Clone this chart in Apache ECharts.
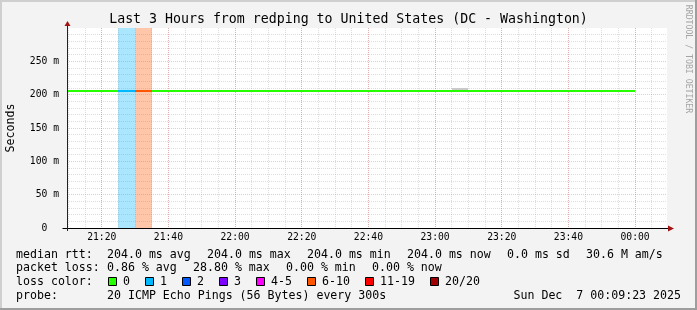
<!DOCTYPE html>
<html><head><meta charset="utf-8">
<script src="https://cdn.jsdelivr.net/npm/echarts@6/dist/echarts.min.js"></script>
<style>html,body{margin:0;padding:0;background:#f3f3f3;}#c{width:697px;height:310px;}</style>
</head><body><div id="c"></div>
<script>
// ---------------- data ----------------
const titleText = 'Last 3 Hours from redping to United States (DC - Washington)';
const yAxisName = 'Seconds';
const watermark = 'RRDTOOL / TOBI OETIKER';
const viewStart = '21:09:35';
const viewEnd = '00:09:35';
const stepMinutes = 5;
const pingsPerProbe = 20;

// end time of each 5-minute sample
const sampleTimes = [
  '21:10','21:15','21:20','21:25','21:30','21:35','21:40','21:45','21:50','21:55',
  '22:00','22:05','22:10','22:15','22:20','22:25','22:30','22:35','22:40','22:45','22:50','22:55',
  '23:00','23:05','23:10','23:15','23:20','23:25','23:30','23:35','23:40','23:45','23:50','23:55',
  '00:00'
];
// median rtt in ms
const medianRtt = [
  204.0,204.0,204.0,204.0,204.0,204.0,204.0,204.0,204.0,204.0,
  204.0,204.0,204.0,204.0,204.0,204.0,204.0,204.0,204.0,204.0,204.0,204.0,
  204.0,204.0,204.0,204.0,204.0,204.0,204.0,204.0,204.0,204.0,204.0,204.0,
  204.0
];
// packet loss in %
const lossPercent = [
  0,0,0,0,5.0,28.8,0,0,0,0,
  0,0,0,0,0,0,0,0,0,0,0,0,
  0,0,0,0,0,0,0,0,0,0,0,0,
  0
];
// smoke (ping spread) in ms
const pingMin = [
  204,204,204,204,204,204,204,204,204,204,
  204,204,204,204,204,204,204,204,204,204,204,204,
  204,204,204,204,204,204,204,204,204,204,204,204,
  204
];
const pingMax = [
  204,204,204,204,204,204,204,204,204,204,
  204,204,204,204,204,204,204,204,204,204,204,204,
  204,204,210,204,204,204,204,204,204,204,204,204,
  204
];

const yTicks = [0, 50, 100, 150, 200, 250];
const yMax = 300;
const xTickLabels = ['21:20','21:40','22:00','22:20','22:40','23:00','23:20','23:40','00:00'];

const lossLabels = ['0','1','2','3','4-5','6-10','11-19','20/20'];
const lossColors = ['#26ff00','#00b8ff','#0059ff','#7e00ff','#ff00ff','#ff5500','#ff0000','#a10000'];
const lossUpper  = [0, 1, 2, 3, 5, 10, 19, 20];

const rttLabel = 'median rtt:';
const rttStats = ['204.0 ms avg','204.0 ms max','204.0 ms min','204.0 ms now','0.0 ms sd','30.6 M am/s'];
const lossLabel = 'packet loss:';
const lossStats = ['0.86 % avg','28.80 % max','0.00 % min','0.00 % now'];
const colorLabel = 'loss color:';
const probeLabel = 'probe:';
const probeText = '20 ICMP Echo Pings (56 Bytes) every 300s';
const dateText = 'Sun Dec  7 00:09:23 2025';

// ---------------- helpers ----------------
const FONT = 'DejaVu Sans Mono';
function ts(s) {
  const p = s.split(':').map(Number);
  const day = p[0] < 12 ? 7 : 6;
  return new Date(2025, 11, day, p[0], p[1], p[2] || 0).getTime();
}
function pad(n) { return (n < 10 ? '0' : '') + n; }
const stepMs = stepMinutes * 60000;
const tStart = ts(viewStart), tEnd = ts(viewEnd);
const majorTs = xTickLabels.map(ts);
const minorTs = [];
for (let t = Math.ceil(tStart / stepMs) * stepMs; t <= tEnd; t += stepMs) minorTs.push(t);

function lossIndex(pct) {
  const lost = pct / 100 * pingsPerProbe;
  for (let i = 0; i < lossUpper.length; i++) if (lost <= lossUpper[i] + 1e-9) return i;
  return lossUpper.length - 1;
}
function withAlpha(hex, a) {
  const r = parseInt(hex.slice(1,3),16), g = parseInt(hex.slice(3,5),16), b = parseInt(hex.slice(5,7),16);
  return 'rgba(' + r + ',' + g + ',' + b + ',' + a + ')';
}

const samples = sampleTimes.map((t, i) => [ts(t) - stepMs, ts(t), medianRtt[i], lossPercent[i], pingMin[i], pingMax[i]]);
const lossSamples = samples.filter(s => s[3] > 0);
const smokeSamples = samples.filter(s => s[5] > s[4]);

const GRID = { left: 67, top: 28, right: 30, bottom: 82 };
const W = 697, H = 310;
const pL = GRID.left, pR = W - GRID.right, pT = GRID.top, pB = H - GRID.bottom;

const majorGrid = 'rgba(235,100,100,0.38)';
const minorGrid = 'rgba(150,150,150,0.32)';

// ---------------- legend graphics ----------------
const LF = 11.6, CW = 7.0, GAP = 16, TX = 16, VX = 107;
const rowMid = [254.5, 268.2, 281.9, 295.6];
function txt(x, y, s, extra) {
  return Object.assign({ type: 'text', x: x, y: y, silent: true,
    style: Object.assign({ text: s, fontFamily: FONT, fontSize: LF, fill: '#000', align: 'left', verticalAlign: 'middle' }, extra || {}) });
}
const graphics = [];
graphics.push({ type: 'rect', shape: { x: 0, y: 0, width: W, height: 2 }, style: { fill: '#cfcfcf' }, silent: true });
graphics.push({ type: 'rect', shape: { x: 0, y: 0, width: 2, height: H }, style: { fill: '#cfcfcf' }, silent: true });
graphics.push({ type: 'rect', shape: { x: 0, y: H - 2, width: W, height: 2 }, style: { fill: '#9e9e9e' }, silent: true });
graphics.push({ type: 'rect', shape: { x: W - 2, y: 0, width: 2, height: H }, style: { fill: '#9e9e9e' }, silent: true });
graphics.push({ type: 'polyline', z: 10, silent: true, shape: { points: [[pL - 4.5, pB + 0.5], [pR + 2, pB + 0.5]] }, style: { stroke: '#000', lineWidth: 1 } });
graphics.push({ type: 'polyline', z: 10, silent: true, shape: { points: [[pL + 0.5, pB + 3], [pL + 0.5, pT - 2]] }, style: { stroke: '#222', lineWidth: 1 } });
graphics.push({ type: 'polygon', z: 10, silent: true, shape: { points: [[pL - 2.5, pT - 2], [pL + 3.5, pT - 2], [pL + 0.5, pT - 7]] }, style: { fill: '#a01414' } });
graphics.push({ type: 'polygon', z: 10, silent: true, shape: { points: [[pR + 1, pB - 2.5], [pR + 1, pB + 3.5], [pR + 7, pB + 0.5]] }, style: { fill: '#a01414' } });
graphics.push({ type: 'text', x: 688.5, y: 59, rotation: -Math.PI / 2, silent: true,
  style: { text: watermark, fontFamily: FONT, fontSize: 8.2, fill: '#a4a4a4', align: 'center', verticalAlign: 'middle' } });
graphics.push(txt(TX, rowMid[0], rttLabel));
(function () { let x = VX; rttStats.forEach(s => { graphics.push(txt(x, rowMid[0], s)); x += s.length * CW + GAP; }); })();
graphics.push(txt(TX, rowMid[1], lossLabel));
(function () { let x = VX; lossStats.forEach(s => { graphics.push(txt(x, rowMid[1], s)); x += s.length * CW + GAP; }); })();
graphics.push(txt(TX, rowMid[2], colorLabel));
(function () {
  let x = VX + 1;
  lossLabels.forEach((lab, i) => {
    graphics.push({ type: 'rect', silent: true, shape: { x: x + 0.5, y: 277.5, width: 8, height: 8 },
      style: { fill: lossColors[i], stroke: '#000', lineWidth: 1 } });
    graphics.push(txt(x + 15, rowMid[2], lab));
    x += 15 + lab.length * CW + 15;
  });
})();
graphics.push(txt(TX, rowMid[3], probeLabel));
graphics.push(txt(VX, rowMid[3], probeText));
graphics.push(txt(681, rowMid[3], dateText, { align: 'right' }));

// ---------------- chart ----------------
const chart = echarts.init(document.getElementById('c'), null, { renderer: 'canvas', width: W, height: H });
const timeFmt = v => { const d = new Date(v); return pad(d.getHours()) + ':' + pad(d.getMinutes()); };

chart.setOption({
  backgroundColor: '#f3f3f3',
  animation: false,
  title: {
    text: titleText, left: 'center', top: 12.8, padding: 0,
    textStyle: { fontFamily: FONT, fontSize: 13.25, fontWeight: 'normal', color: '#000' }
  },
  grid: { left: GRID.left, top: GRID.top, right: GRID.right, bottom: GRID.bottom,
    containLabel: false, outerBoundsMode: 'none',
    show: true, backgroundColor: '#ffffff', borderWidth: 0, z: 0 },
  xAxis: [
    {
      type: 'value', min: tStart, max: tEnd, position: 'bottom', z: 3,
      axisLine: { show: true, lineStyle: { color: '#000', width: 1 } },
      axisTick: { show: false, customValues: majorTs },
      axisLabel: { customValues: majorTs, formatter: timeFmt, fontFamily: FONT, fontSize: 9.7, color: '#000', margin: 4.5 },
      splitLine: { show: true, lineStyle: { color: majorGrid, width: 1, type: [1, 1] } }
    },
    {
      type: 'value', min: tStart, max: tEnd, position: 'bottom', z: 2,
      axisLine: { show: false }, axisLabel: { show: false },
      axisTick: { show: false, customValues: minorTs },
      splitLine: { show: true, lineStyle: { color: minorGrid, width: 1, type: [1, 1] } }
    }
  ],
  yAxis: {
    type: 'value', min: 0, max: yMax, interval: 50, z: 3,
    name: yAxisName, nameLocation: 'middle', nameRotate: 90, nameGap: 50,
    nameTextStyle: { fontFamily: FONT, fontSize: 11.6, color: '#000' },
    axisLine: { show: true, lineStyle: { color: '#222', width: 1 } },
    axisTick: { show: false, customValues: yTicks },
    axisLabel: { customValues: yTicks, formatter: v => v === 0 ? '0  ' : v + ' m',
      fontFamily: FONT, fontSize: 9.7, color: '#000', margin: 8 },
    splitLine: { show: true, lineStyle: { color: majorGrid, width: 1, type: [1, 1] } },
    minorTick: { show: false, splitNumber: 5 },
    minorSplitLine: { show: true, lineStyle: { color: minorGrid, width: 1, type: [1, 1] } }
  },
  series: [
    {
      name: 'loss bands', type: 'custom', z: 1, clip: true, silent: true,
      data: lossSamples, encode: { x: [0, 1], y: 2 },
      renderItem: function (params, api) {
        const x0 = Math.round(api.coord([api.value(0), 0])[0]);
        const x1 = Math.round(api.coord([api.value(1), 0])[0]);
        const cs = params.coordSys;
        return { type: 'rect', shape: { x: x0, y: cs.y, width: x1 - x0, height: cs.height },
          style: { fill: withAlpha(lossColors[lossIndex(api.value(3))], 0.333) } };
      }
    },
    {
      name: 'smoke', type: 'custom', z: 4, clip: true, silent: true,
      data: smokeSamples, encode: { x: [0, 1], y: [4, 5] },
      renderItem: function (params, api) {
        const a = api.coord([api.value(0), api.value(5)]);
        const b = api.coord([api.value(1), api.value(4)]);
        const x0 = Math.round(a[0]), x1 = Math.round(b[0]);
        return { type: 'rect', shape: { x: x0, y: a[1], width: x1 - x0, height: b[1] - a[1] },
          style: { fill: '#cacaca' } };
      }
    },
    {
      name: 'median rtt', type: 'custom', z: 5, clip: true, silent: true,
      data: samples, encode: { x: [0, 1], y: 2 },
      renderItem: function (params, api) {
        const a = api.coord([api.value(0), api.value(2)]);
        const b = api.coord([api.value(1), api.value(2)]);
        const x0 = Math.round(a[0]), x1 = Math.round(b[0]);
        const yc = Math.round(a[1]);
        return { type: 'rect', shape: { x: x0, y: yc - 2, width: x1 - x0, height: 2 },
          style: { fill: lossColors[lossIndex(api.value(3))] } };
      }
    }
  ],
  graphic: graphics
});
</script>
</body></html>
